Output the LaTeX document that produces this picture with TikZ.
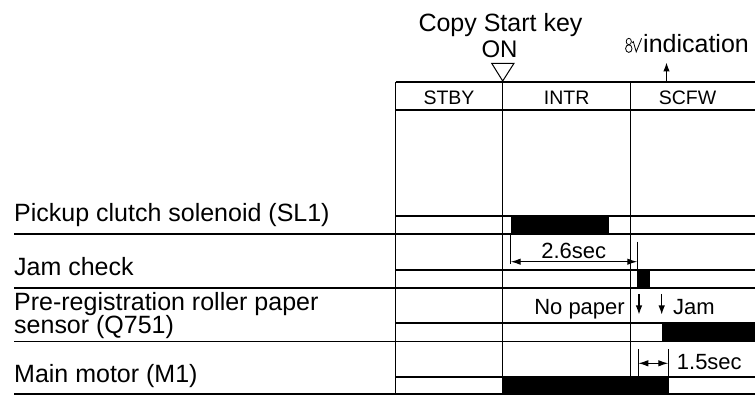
\documentclass[tikz,border=0pt]{standalone}
\usepackage{fontspec}
\usepackage{graphicx}
\setmainfont{Liberation Sans}
\usetikzlibrary{arrows.meta}
\begin{document}
\begin{tikzpicture}[x=1pt,y=-1pt,
  big/.style={font=\fontsize{25}{25}\selectfont, inner sep=0pt},
  on/.style={font=\fontsize{24}{24}\selectfont, inner sep=0pt},
  ind/.style={font=\fontsize{25}{25}\selectfont, inner sep=0pt},
  mid/.style={font=\fontsize{22}{22}\selectfont, inner sep=0pt},
  hdr/.style={font=\fontsize{19.5}{19.5}\selectfont, inner sep=0pt},
  rowline/.style={line width=1.7pt},
  vline/.style={line width=1.3pt},
  thin/.style={line width=1pt},
  pulse/.style={fill=black},
  dimarrow/.style={line width=1.1pt, {Latex[length=10pt,width=6.5pt]}-{Latex[length=10pt,width=6.5pt]}},
  downarrow/.style={line width=1.1pt, -{Latex[length=9pt,width=6.5pt]}},
  uparrow/.style={line width=1.1pt, -{Latex[length=9pt,width=6.5pt]}}]
\useasboundingbox (0,0) rectangle (755,395);

% pulses
\fill[pulse] (510.7,216) rectangle (609.3,234);
\fill[pulse] (637.3,270.3) rectangle (650,288.3);
\fill[pulse] (662,323.3) rectangle (755,341.5);
\fill[pulse] (502.7,376.7) rectangle (669,394);

% table frame
\draw[rowline] (395.7,82) -- (755,82);
\draw[rowline] (395.7,110) -- (755,110);
\draw[vline] (395.7,82) -- (395.7,394.6);
\draw[vline] (502.7,82) -- (502.7,394.6);
\draw[vline] (630.7,82) -- (630.7,394.6);

% signal level lines
\foreach \y in {216,270.3,323.3,376.7} \draw[rowline] (395.7,\y) -- (755,\y);
% row separators
\foreach \y in {234,288.3,341.5,394} \draw[rowline] (14,\y) -- (755,\y);

% header texts
\node[hdr, anchor=base] (stby) at (449,105) {STBY};
\node[hdr, anchor=base] (intr) at (566.7,105) {INTR};
\node[hdr, anchor=base] (scfw) at (687.5,105) {SCFW};

% copy start key
\node[big, anchor=base] (copy) at (500.5,31.7) {Copy Start key};
\node[on, anchor=base] (on) at (499.5,57.3) {ON};
\draw[thin] (491.7,63.3) -- (514,63.3) -- (502.7,81) -- cycle;

% indication
\coordinate (indbase) at (666.5,82);
\coordinate (indtip) at (666.5,62.5);
\draw[uparrow] (indbase) -- (indtip);
\draw[line width=0.8pt] (628.8,41.5) ellipse [x radius=2.6pt, y radius=3.2pt];
\draw[line width=0.8pt] (628.8,48.6) ellipse [x radius=3.2pt, y radius=3.8pt];
\draw[line width=0.8pt] (632.3,42.8) -- (633.3,41.6) -- (636.2,51.8) -- (641.6,38.3);
\node[ind, anchor=base west] (ind) at (643,52.3) {indication};

% left labels
\node[big, anchor=base west] (sl1) at (14,221.7) {Pickup clutch solenoid (SL1)};
\node[big, anchor=base west] (jam) at (14,276) {Jam check};
\node[big, anchor=base west] (q751a) at (14,310.7) {Pre-registration roller paper};
\node[big, anchor=base west] (q751b) at (14,333.3) {sensor (Q751)};
\node[big, anchor=base west] (m1) at (14,382.7) {Main motor (M1)};

% 2.6sec dimension
\coordinate (a1) at (510.7,234);
\coordinate (a2) at (510.7,264);
\coordinate (b1) at (637.3,241.7);
\coordinate (b2) at (637.3,270.3);
\draw[thin] (a1) -- (a2);
\draw[thin] (b1) -- (b2);
\draw[dimarrow] (510.7,261.7) -- (637.3,261.7);
\node[mid, anchor=base] (t26) at (573.7,258.3) {2.6sec};

% jam check arrows
\node[mid, anchor=base east] (nopaper) at (625,314.3) {No paper};
\node[mid, anchor=base west] (jamtxt) at (673,314.3) {Jam};
\coordinate (d1s) at (639,294);
\coordinate (d1e) at (639,314.5);
\coordinate (d2s) at (661.7,294);
\coordinate (d2e) at (661.7,314.5);
\draw[downarrow] (d1s) -- (d1e);
\draw[downarrow] (d2s) -- (d2e);

% 1.5sec dimension
\coordinate (c1) at (638.3,349);
\coordinate (c2) at (638.3,376.7);
\coordinate (e1) at (668.3,349);
\coordinate (e2) at (668.3,376.7);
\draw[thin] (c1) -- (c2);
\draw[thin] (e1) -- (e2);
\draw[dimarrow] (638.3,363.3) -- (668.3,363.3);
\node[mid, anchor=base west] (t15) at (676.7,370) {1.5sec};
\end{tikzpicture}
\end{document}
